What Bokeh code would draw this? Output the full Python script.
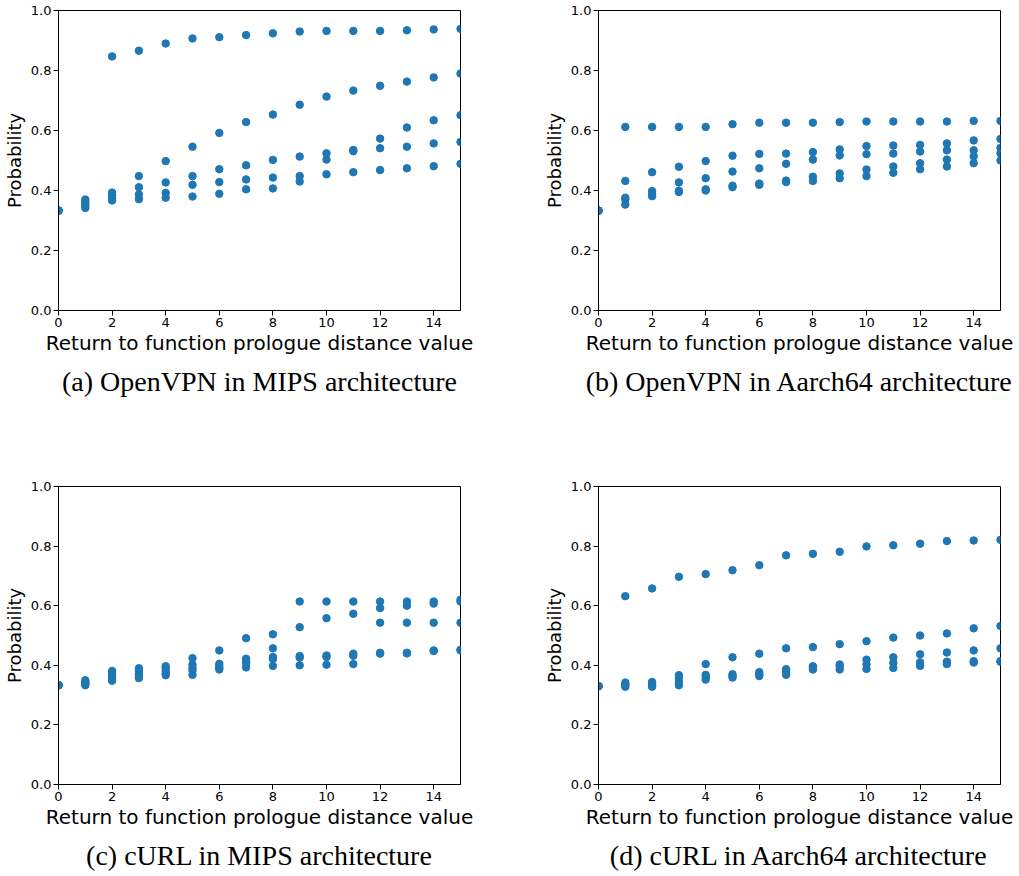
from bokeh.plotting import figure
from bokeh.layouts import gridplot
from bokeh.models import Range1d, FixedTicker, PrintfTickFormatter, Title, ColumnDataSource
from bokeh.embed import file_html
from bokeh.resources import INLINE

# Return-to-prologue distance values
distance = list(range(16))

# (a) OpenVPN, MIPS
openvpn_mips_1 = [0.333, 0.370, 0.847, 0.866, 0.890, 0.907, 0.911, 0.918, 0.924, 0.930, 0.932, 0.932, 0.932, 0.934, 0.937, 0.939]
openvpn_mips_2 = [0.333, 0.364, 0.393, 0.448, 0.498, 0.546, 0.592, 0.628, 0.653, 0.686, 0.713, 0.733, 0.749, 0.763, 0.777, 0.790]
openvpn_mips_3 = [0.333, 0.357, 0.383, 0.411, 0.427, 0.448, 0.471, 0.484, 0.502, 0.513, 0.524, 0.535, 0.573, 0.610, 0.634, 0.651]
openvpn_mips_4 = [0.333, 0.349, 0.374, 0.387, 0.392, 0.419, 0.428, 0.437, 0.443, 0.448, 0.503, 0.531, 0.541, 0.546, 0.557, 0.562]
openvpn_mips_5 = [0.333, 0.342, 0.367, 0.371, 0.376, 0.380, 0.389, 0.404, 0.407, 0.430, 0.454, 0.461, 0.468, 0.474, 0.481, 0.489]

# (b) OpenVPN, Aarch64
openvpn_arm_1 = [0.333, 0.612, 0.612, 0.612, 0.612, 0.621, 0.626, 0.626, 0.626, 0.628, 0.630, 0.630, 0.630, 0.630, 0.632, 0.632]
openvpn_arm_2 = [0.333, 0.432, 0.461, 0.479, 0.498, 0.516, 0.522, 0.523, 0.528, 0.537, 0.548, 0.550, 0.552, 0.557, 0.567, 0.572]
openvpn_arm_3 = [0.333, 0.376, 0.398, 0.427, 0.441, 0.463, 0.474, 0.489, 0.503, 0.517, 0.521, 0.523, 0.530, 0.534, 0.534, 0.542]
openvpn_arm_4 = [0.333, 0.370, 0.389, 0.399, 0.404, 0.416, 0.423, 0.433, 0.446, 0.457, 0.470, 0.480, 0.491, 0.503, 0.514, 0.524]
openvpn_arm_5 = [0.333, 0.353, 0.381, 0.395, 0.400, 0.411, 0.419, 0.428, 0.432, 0.441, 0.448, 0.459, 0.471, 0.480, 0.491, 0.500]

# (c) cURL, MIPS
curl_mips_1 = [0.333, 0.350, 0.381, 0.390, 0.397, 0.424, 0.450, 0.491, 0.504, 0.614, 0.614, 0.614, 0.614, 0.614, 0.614, 0.620]
curl_mips_2 = [0.333, 0.345, 0.372, 0.381, 0.389, 0.402, 0.405, 0.422, 0.457, 0.528, 0.558, 0.573, 0.592, 0.600, 0.607, 0.614]
curl_mips_3 = [0.333, 0.341, 0.363, 0.372, 0.381, 0.391, 0.398, 0.414, 0.428, 0.431, 0.433, 0.439, 0.543, 0.543, 0.543, 0.543]
curl_mips_4 = [0.333, 0.337, 0.355, 0.364, 0.373, 0.382, 0.392, 0.408, 0.421, 0.426, 0.428, 0.432, 0.442, 0.442, 0.450, 0.452]
curl_mips_5 = [0.333, 0.333, 0.348, 0.357, 0.367, 0.368, 0.386, 0.393, 0.398, 0.400, 0.402, 0.404, 0.439, 0.440, 0.448, 0.450]

# (d) cURL, Aarch64
curl_arm_1 = [0.330, 0.632, 0.658, 0.697, 0.706, 0.719, 0.736, 0.769, 0.774, 0.781, 0.799, 0.803, 0.808, 0.817, 0.819, 0.821]
curl_arm_2 = [0.330, 0.342, 0.344, 0.367, 0.404, 0.427, 0.439, 0.457, 0.461, 0.471, 0.481, 0.493, 0.500, 0.507, 0.524, 0.532]
curl_arm_3 = [0.330, 0.337, 0.339, 0.356, 0.368, 0.370, 0.377, 0.387, 0.397, 0.403, 0.419, 0.427, 0.437, 0.443, 0.450, 0.457]
curl_arm_4 = [0.330, 0.332, 0.333, 0.344, 0.360, 0.364, 0.370, 0.381, 0.392, 0.396, 0.403, 0.408, 0.410, 0.412, 0.414, 0.414]
curl_arm_5 = [0.330, 0.328, 0.328, 0.333, 0.352, 0.359, 0.364, 0.368, 0.386, 0.386, 0.388, 0.391, 0.398, 0.404, 0.409, 0.412]

x_ticks = [0, 2, 4, 6, 8, 10, 12, 14]
y_ticks = [0.0, 0.2, 0.4, 0.6, 0.8, 1.0]

captions = [
    "(a) OpenVPN in MIPS architecture",
    "(b) OpenVPN in Aarch64 architecture",
    "(c) cURL in MIPS architecture",
    "(d) cURL in Aarch64 architecture",
]

DOT = "#1f77b4"
SANS = "DejaVu Sans"
SERIF = "Liberation Serif"


def panel(series, caption, width, height, left, right, top, bottom):
    p = figure(width=width, height=height, output_backend="svg", toolbar_location=None,
               x_range=Range1d(0, 15), y_range=Range1d(0, 1),
               min_border_left=left, min_border_right=right,
               min_border_top=top, min_border_bottom=bottom)
    for ys in series:
        src = ColumnDataSource(dict(x=distance, y=ys))
        p.scatter("x", "y", source=src, size=7.5, color=DOT, line_color=DOT)
    p.grid.visible = False
    p.outline_line_color = "black"
    p.outline_line_alpha = 1
    p.outline_line_width = 1
    p.xaxis.ticker = FixedTicker(ticks=x_ticks)
    p.yaxis.ticker = FixedTicker(ticks=y_ticks)
    p.yaxis.formatter = PrintfTickFormatter(format="%.1f")
    p.xaxis.axis_label = "Return to function prologue distance value"
    p.yaxis.axis_label = "Probability"
    for ax in (p.xaxis, p.yaxis):
        ax.axis_line_color = "black"
        ax.major_tick_line_color = "black"
        ax.minor_tick_line_color = None
        ax.major_tick_out = 5
        ax.major_tick_in = 0
        ax.major_label_text_font = SANS
        ax.major_label_text_font_size = "13px"
        ax.major_label_text_color = "black"
        ax.axis_label_text_font = SANS
        ax.axis_label_text_font_style = "normal"
        ax.axis_label_text_color = "black"
        ax.major_label_standoff = 2
    p.xaxis.axis_label_text_font_size = "20px"
    p.yaxis.axis_label_text_font_size = "18px"
    p.xaxis.axis_label_standoff = 1
    p.yaxis.axis_label_standoff = 3
    p.add_layout(Title(text=caption, align="center", text_font=SERIF,
                       text_font_size="28px", text_font_style="normal",
                       text_color="black", standoff=12), "below")
    return p


pa = panel([openvpn_mips_1, openvpn_mips_2, openvpn_mips_3, openvpn_mips_4, openvpn_mips_5],
           captions[0], 540, 476, 57, 80, 10, 166)
pb = panel([openvpn_arm_1, openvpn_arm_2, openvpn_arm_3, openvpn_arm_4, openvpn_arm_5],
           captions[1], 479, 476, 57, 19, 10, 166)
pc = panel([curl_mips_1, curl_mips_2, curl_mips_3, curl_mips_4, curl_mips_5],
           captions[2], 540, 400, 57, 80, 10, 90)
pd = panel([curl_arm_1, curl_arm_2, curl_arm_3, curl_arm_4, curl_arm_5],
           captions[3], 479, 400, 57, 19, 10, 90)

grid = gridplot([[pa, pb], [pc, pd]], toolbar_location=None)

open("out.html", "w").write(file_html(grid, INLINE))
